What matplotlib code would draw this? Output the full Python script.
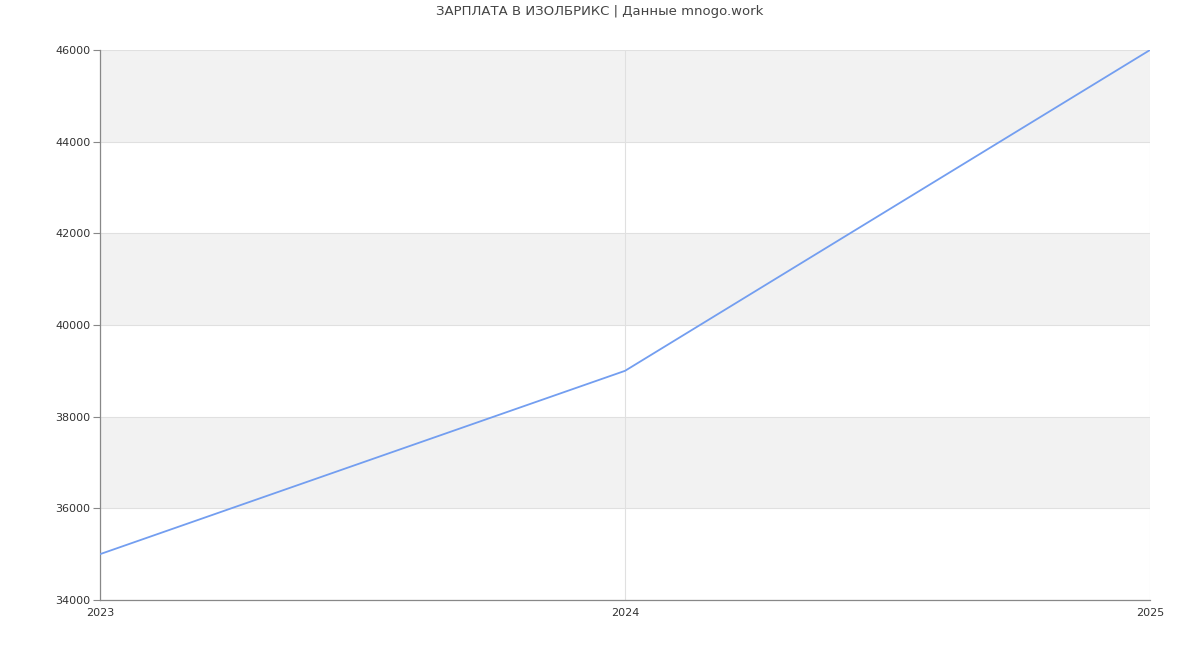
import numpy as np
import matplotlib
matplotlib.use("Agg")
import matplotlib.pyplot as plt

years = [2023, 2024, 2025]
salary = [35000, 39000, 46000]
y_ticks = [34000, 36000, 38000, 40000, 42000, 44000, 46000]
title = "ЗАРПЛАТА В ИЗОЛБРИКС | Данные mnogo.work"

plt.rcParams['font.family'] = ['DejaVu Sans']

fig = plt.figure(figsize=(12, 6.5), dpi=100)
ax = fig.add_axes([100 / 1200, 1 - 600 / 650, 1050 / 1200, 550 / 650])

# alternating horizontal bands
for i in range(len(y_ticks) - 1):
    if i % 2 == 1:
        ax.axhspan(y_ticks[i], y_ticks[i + 1], color="#f2f2f2", zorder=0, lw=0)

for y in y_ticks:
    ax.axhline(y, color="#e0e0e0", lw=0.8, zorder=1)
for x in years:
    ax.axvline(x, color="#e0e0e0", lw=0.8, zorder=1)

ax.plot(years, salary, color="#739ef0", lw=1.3, zorder=3)

ax.set_xlim(years[0], years[-1])
ax.set_ylim(y_ticks[0], y_ticks[-1])
ax.set_xticks(years)
ax.set_xticklabels([str(y) for y in years])
ax.set_yticks(y_ticks)
ax.set_yticklabels([str(y) for y in y_ticks])

for s in ["top", "right"]:
    ax.spines[s].set_visible(False)
for s in ["left", "bottom"]:
    ax.spines[s].set_color("#888888")
    ax.spines[s].set_linewidth(0.9)

ax.tick_params(axis="y", length=5, width=0.8, color="#888888", labelsize=8, labelcolor="#333333", pad=2)
ax.tick_params(axis="x", length=0, labelsize=8, labelcolor="#333333", pad=6)

fig.text(0.5, 1 - 12 / 650, title, ha="center", va="center", fontsize=9.5, color="#444444")

fig.savefig("out.png", dpi=100)
